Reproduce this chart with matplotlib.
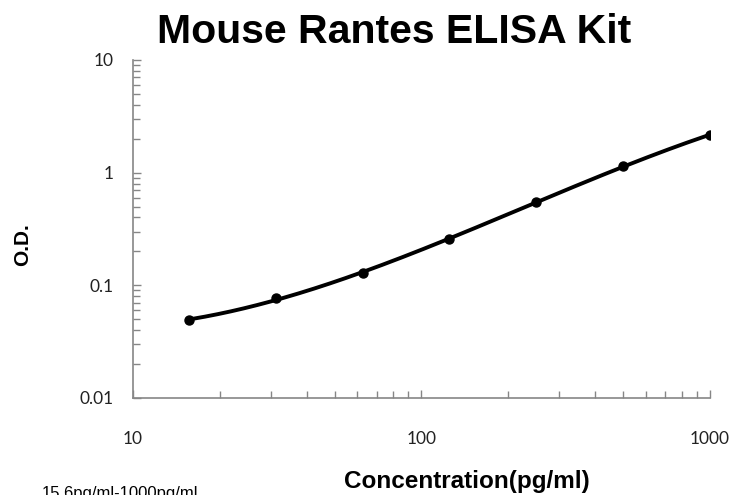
import numpy as np
import matplotlib
matplotlib.use("Agg")
import matplotlib.pyplot as plt
from matplotlib.ticker import LogLocator, FixedLocator, NullFormatter

# standard curve data
conc = [15.6, 31.25, 62.5, 125, 250, 500, 1000]
od = [0.049, 0.077, 0.128, 0.255, 0.55, 1.14, 2.15]
xticks = [10, 100, 1000]
xticklabels = ["10", "100", "1000"]
yticks = [0.01, 0.1, 1, 10]
yticklabels = ["0.01", "0.1", "1", "10"]

# smooth fit in log-log space
lx = np.log10(conc)
ly = np.log10(od)
coef = np.polyfit(lx, ly, 3)
xs = np.logspace(np.log10(16), np.log10(1000), 200)
ys = 10 ** np.polyval(coef, np.log10(xs))

fig = plt.figure(figsize=(7.31, 4.95), dpi=100)
ax = fig.add_axes([0.182, 0.196, 0.789, 0.683])

ax.plot(xs, ys, color="black", lw=2.8, solid_capstyle="round")
ax.plot(conc, od, "o", color="black", ms=6.5)

ax.set_xscale("log")
ax.set_yscale("log")
ax.set_xlim(10, 1000)
ax.set_ylim(0.01, 10)

grey = "#868686"
for s in ["top", "right"]:
    ax.spines[s].set_visible(False)
for s in ["left", "bottom"]:
    ax.spines[s].set_color(grey)
    ax.spines[s].set_linewidth(1.2)

ax.xaxis.set_major_locator(FixedLocator(xticks))
ax.set_xticklabels(xticklabels)
ax.yaxis.set_major_locator(FixedLocator(yticks))
ax.set_yticklabels(yticklabels)
ax.xaxis.set_minor_locator(LogLocator(base=10, subs=np.arange(2, 10)))
ax.yaxis.set_minor_locator(LogLocator(base=10, subs=np.arange(2, 10)))
ax.xaxis.set_minor_formatter(NullFormatter())
ax.yaxis.set_minor_formatter(NullFormatter())
ax.tick_params(which="major", direction="in", length=6, width=1, color=grey,
               labelsize=12.5, labelcolor="#222222")
ax.tick_params(which="minor", direction="in", length=5, width=1, color=grey)
ax.tick_params(axis="x", which="major", pad=24)
ax.tick_params(axis="y", which="major", pad=14)
for lab in ax.get_xticklabels() + ax.get_yticklabels():
    lab.set_family("Lato")

fig.text(0.539, 0.935, "Mouse Rantes ELISA Kit", ha="center", va="center",
         fontsize=29.5, fontweight="bold", family="Liberation Sans")
fig.text(0.639, 0.028, "Concentration(pg/ml)", ha="center", va="center",
         fontsize=17.5, fontweight="bold", family="Liberation Sans")
fig.text(0.031, 0.505, "O.D.", ha="center", va="center", rotation=90,
         fontsize=15, fontweight="bold", family="Liberation Sans")
fig.text(0.057, 1 - 486 / 495, "15.6pg/ml-1000pg/ml", ha="left", va="top",
         fontsize=12, family="Liberation Sans")

fig.savefig("out.png", dpi=100)
